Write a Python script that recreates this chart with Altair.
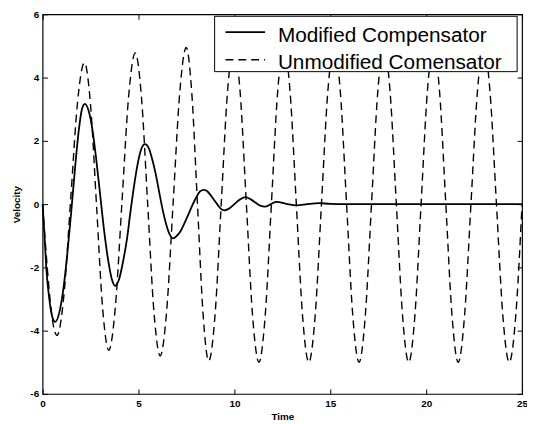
import altair as alt
import pandas as pd

# ---- data ----
time_mod = [0, 0.1, 0.19, 0.36, 0.5, 0.66,
            0.9, 1.1, 1.3, 1.5, 1.7, 1.9, 2.05, 2.2,
            2.4, 2.6, 2.8, 3.0, 3.2, 3.4, 3.6, 3.78,
            4.0, 4.2, 4.4, 4.56, 4.75, 4.95, 5.15, 5.34,
            5.55, 5.7, 5.9, 6.07, 6.25, 6.45, 6.62, 6.8,
            7.0, 7.2, 7.4, 7.61, 7.8, 8.0, 8.2, 8.42,
            8.6, 8.8, 8.95, 9.1, 9.3, 9.47,
            9.7, 10.0, 10.3, 10.58,
            10.85, 11.1, 11.35, 11.6,
            11.9, 12.2, 12.7, 13.25, 13.8, 14.4, 15.0, 16.0, 25.0]
vel_mod = [0, -1.0, -2.0, -3.05, -3.55, -3.72,
           -3.35, -2.6, -1.5, -0.2, 1.2, 2.4, 3.0, 3.17,
           2.95, 2.35, 1.4, 0.3, -0.8, -1.7, -2.35, -2.58,
           -2.35, -1.8, -1.1, -0.34, 0.5, 1.25, 1.75, 1.9,
           1.75, 1.45, 0.95, 0.41, -0.15, -0.65, -0.95, -1.08,
           -1.0, -0.85, -0.6, -0.315, -0.05, 0.2, 0.4, 0.45,
           0.4, 0.25, 0.125, 0.0, -0.15, -0.2,
           -0.15, 0.0, 0.15, 0.22,
           0.15, 0.05, -0.05, -0.08,
           0.0, 0.07, 0.01, -0.04, 0.0, 0.03, 0.01, 0.0, 0.0]

time_unmod = [0, 0.19, 0.375, 0.56, 0.75,
              1.11, 1.465, 1.82, 2.18,
              2.5, 2.815, 3.13, 3.45,
              3.795, 4.14, 4.485, 4.83,
              5.155, 5.48, 5.805, 6.13,
              6.47, 6.81, 7.15, 7.49,
              7.78, 8.075, 8.37, 8.66,
              8.99, 9.315, 9.64, 9.97,
              10.3, 10.625, 10.95, 11.28,
              11.605, 11.93, 12.255, 12.58,
              12.905, 13.23, 13.555, 13.88,
              14.21, 14.54, 14.87, 15.2,
              15.525, 15.85, 16.175, 16.5,
              16.825, 17.15, 17.475, 17.8,
              18.12, 18.445, 18.77, 19.09,
              19.41, 19.735, 20.06, 20.38,
              20.7, 21.025, 21.35, 21.67,
              22.0, 22.335, 22.67, 23.0,
              23.33, 23.665, 24.0, 24.33,
              24.67, 25.0]
vel_unmod = [0, -1.6, -2.93, -3.83, -4.15,
             -2.89, 0.16, 3.21, 4.47,
             3.14, -0.075, -3.29, -4.62,
             -3.24, 0.08, 3.4, 4.78,
             3.38, -0.01, -3.4, -4.8,
             -3.37, 0.075, 3.52, 4.95,
             3.5, 0.0, -3.5, -4.96,
             -3.52, 0.02, 3.54, 5.0,
             3.54, 0.0, -3.54, -5.0,
             -3.54, 0.0, 3.54, 5.0,
             3.54, 0.0, -3.54, -5.0,
             -3.54, 0.0, 3.54, 5.0,
             3.54, 0.0, -3.54, -5.0,
             -3.54, 0.0, 3.54, 5.0,
             3.54, 0.0, -3.54, -5.0,
             -3.54, 0.0, 3.54, 5.0,
             3.54, 0.0, -3.54, -5.0,
             -3.54, 0.0, 3.54, 5.0,
             3.54, 0.0, -3.54, -5.0,
             -3.54, 0.0]

legend_labels = ["Modified Compensator", "Unmodified Comensator"]
x_ticks = [0, 5, 10, 15, 20, 25]
y_ticks = [-6, -4, -2, 0, 2, 4, 6]

df_mod = pd.DataFrame({"t": time_mod, "v": vel_mod})
df_un = pd.DataFrame({"t": time_unmod, "v": vel_unmod})

FONT = "Liberation Sans"
xscale = alt.Scale(domain=[0, 25], nice=False, zero=False)
yscale = alt.Scale(domain=[-6, 6], nice=False, zero=False)

tick_style = dict(tickSize=5, offset=-5, domain=False, grid=False,
                  tickColor="black", tickWidth=1)
label_style = dict(labelFlush=False, labelFont=FONT, labelFontSize=10,
                   labelFontWeight="bold", labelColor="black",
                   titleFont=FONT, titleFontSize=10, titleFontWeight="bold",
                   titleColor="black", labelExpr="'' + datum.value")

x_bottom = alt.Axis(orient="bottom", values=x_ticks, title="Time",
                    labelPadding=5, titlePadding=3, **tick_style, **label_style)
y_left = alt.Axis(orient="left", values=y_ticks, title="Velocity",
                  labelPadding=4, titlePadding=8, **tick_style, **label_style)
x_top = alt.Axis(orient="top", values=x_ticks, labels=False, title="", **tick_style)
y_right = alt.Axis(orient="right", values=y_ticks, labels=False, title="", **tick_style)

line_un = alt.Chart(df_un).mark_line(
    color="black", strokeWidth=1.4, strokeDash=[8, 5], interpolate="monotone"
).encode(
    x=alt.X("t:Q", scale=xscale, axis=x_top),
    y=alt.Y("v:Q", scale=yscale, axis=y_right),
)

line_mod = alt.Chart(df_mod).mark_line(
    color="black", strokeWidth=1.8, interpolate="monotone"
).encode(
    x=alt.X("t:Q", scale=xscale, axis=x_bottom),
    y=alt.Y("v:Q", scale=yscale, axis=y_left),
)

dummy = pd.DataFrame({"k": [0]})
leg_box = alt.Chart(dummy).mark_rect(fill="white", stroke="black", strokeWidth=1).encode(
    x=alt.value(174), x2=alt.value(480), y=alt.value(2), y2=alt.value(58))
leg_line1 = alt.Chart(dummy).mark_rule(color="black", strokeWidth=1.8).encode(
    x=alt.value(185), x2=alt.value(225), y=alt.value(18))
leg_line2 = alt.Chart(dummy).mark_rule(color="black", strokeWidth=1.4, strokeDash=[8, 5]).encode(
    x=alt.value(185), x2=alt.value(225), y=alt.value(46))
leg_text1 = alt.Chart(pd.DataFrame({"label": [legend_labels[0]]})).mark_text(
    align="left", baseline="alphabetic", font=FONT, fontSize=21, color="black").encode(
    x=alt.value(238), y=alt.value(28), text="label:N")
leg_text2 = alt.Chart(pd.DataFrame({"label": [legend_labels[1]]})).mark_text(
    align="left", baseline="alphabetic", font=FONT, fontSize=21, color="black").encode(
    x=alt.value(238), y=alt.value(55), text="label:N")

chart = alt.layer(
    line_un, line_mod, leg_box, leg_line1, leg_line2, leg_text1, leg_text2
).resolve_axis(x="independent", y="independent").properties(
    width=485, height=384,
    autosize=alt.AutoSizeParams(type="none"),
    padding={"left": 35, "top": 4, "right": 5, "bottom": 25},
).configure_view(stroke="black", strokeWidth=1.2)

chart.save("out.html", embed_options={"renderer": "svg", "actions": False})
